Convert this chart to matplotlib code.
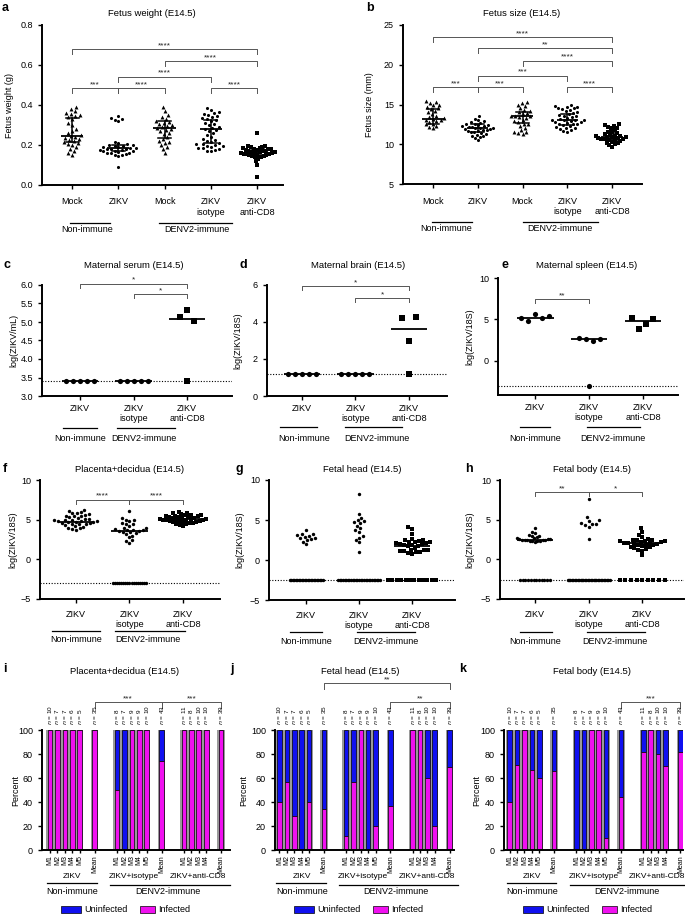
import numpy as np
import matplotlib
matplotlib.use("Agg")
import matplotlib.pyplot as plt
from matplotlib.patches import Rectangle
from matplotlib.transforms import blended_transform_factory

plt.rcParams["font.family"] = ["Liberation Sans", "DejaVu Sans"]
plt.rcParams["font.size"] = 6.5

W, H = 685, 915

# ------------------------------------------------------------------
# data
# ------------------------------------------------------------------
# a. fetus weight (g)
A_CATS = ["Mock", "ZIKV", "Mock", "ZIKV\nisotype", "ZIKV\nanti-CD8"]
A_MOCK_NI = [0.39, 0.38, 0.37, 0.36, 0.355, 0.35, 0.345, 0.34, 0.33, 0.31, 0.30, 0.28, 0.27, 0.26, 0.25,
             0.245, 0.24, 0.235, 0.23, 0.225, 0.22, 0.215, 0.21, 0.205, 0.20, 0.19, 0.18, 0.17, 0.16, 0.15]
A_ZIKV_NI = [0.345, 0.335, 0.33, 0.325, 0.32, 0.215, 0.21, 0.205, 0.20, 0.198, 0.195, 0.193, 0.19, 0.188,
             0.186, 0.184, 0.182, 0.18, 0.178, 0.176, 0.174, 0.172, 0.17, 0.168, 0.165, 0.162, 0.16,
             0.158, 0.155, 0.152, 0.148, 0.143, 0.09]
A_MOCK_D = [0.39, 0.37, 0.35, 0.34, 0.33, 0.32, 0.315, 0.31, 0.305, 0.30, 0.295, 0.29, 0.285, 0.28, 0.275,
            0.27, 0.26, 0.255, 0.24, 0.23, 0.22, 0.215, 0.21, 0.20, 0.19, 0.18, 0.16]
A_ISO = [0.385, 0.375, 0.365, 0.36, 0.355, 0.35, 0.345, 0.34, 0.335, 0.33, 0.325, 0.32, 0.31, 0.305, 0.30,
         0.29, 0.285, 0.28, 0.275, 0.27, 0.26, 0.25, 0.24, 0.23, 0.225, 0.22, 0.215, 0.21, 0.207, 0.204,
         0.20, 0.197, 0.194, 0.19, 0.187, 0.184, 0.18, 0.177, 0.172, 0.168]
A_CD8 = [0.26, 0.195, 0.193, 0.19, 0.188, 0.186, 0.184, 0.182, 0.18, 0.178, 0.176, 0.174, 0.172, 0.17,
         0.168, 0.166, 0.165, 0.163, 0.162, 0.16, 0.158, 0.157, 0.155, 0.153, 0.152, 0.15, 0.148, 0.147,
         0.145, 0.142, 0.14, 0.13, 0.12, 0.10, 0.04]
A_CENTER = [0.245, 0.185, 0.285, 0.28, 0.165]
A_LO = [0.215, 0.17, 0.235, 0.21, 0.15]
A_HI = [0.335, 0.20, 0.32, 0.325, 0.18]

# b. fetus size (mm)
B_MOCK_NI = [15.5, 15.3, 15.2, 15.0, 14.9, 14.7, 14.5, 14.4, 14.2, 14.0, 13.8, 13.6, 13.4, 13.3, 13.2,
             13.1, 13.0, 12.9, 12.8, 12.6, 12.5, 12.3, 12.2, 12.0]
B_ZIKV_NI = [13.5, 13.2, 13.0, 12.9, 12.8, 12.7, 12.6, 12.5, 12.45, 12.4, 12.3, 12.25, 12.2, 12.15, 12.1,
             12.05, 12.0, 11.95, 11.9, 11.85, 11.8, 11.7, 11.65, 11.6, 11.5, 11.4, 11.3, 11.2, 11.1, 11.0,
             10.9, 10.8, 10.5]
B_MOCK_D = [15.3, 15.2, 15.0, 14.8, 14.6, 14.3, 14.2, 14.0, 13.9, 13.8, 13.6, 13.55, 13.5, 13.4, 13.3,
            13.1, 12.9, 12.8, 12.6, 12.5, 12.3, 12.0, 11.8, 11.6, 11.5, 11.4, 11.3]
B_ISO = [14.9, 14.8, 14.7, 14.65, 14.6, 14.5, 14.4, 14.3, 14.2, 14.0, 13.9, 13.8, 13.7, 13.6, 13.5,
         13.4, 13.3, 13.2, 13.1, 13.05, 13.0, 12.9, 12.85, 12.8, 12.7, 12.6, 12.55, 12.5, 12.4, 12.3,
         12.2, 12.1, 12.0, 11.9, 11.8, 11.7, 11.6, 13.0]
B_CD8 = [12.5, 12.4, 12.3, 12.2, 12.1, 12.0, 11.8, 11.6, 11.4, 11.3, 11.2, 11.1, 11.05, 11.0, 10.95,
         10.9, 10.85, 10.8, 10.75, 10.7, 10.65, 10.6, 10.55, 10.5, 10.4, 10.3, 10.2, 10.1, 10.0, 9.9,
         9.7, 11.5]
B_CENTER = [13.2, 12.0, 13.5, 13.0, 10.9]
B_LO = [12.5, 11.6, 12.7, 12.4, 10.5]
B_HI = [14.4, 12.5, 14.1, 13.8, 11.4]

# c-h. viral load
CH_CATS = ["ZIKV", "ZIKV\nisotype", "ZIKV\nanti-CD8"]
C_ZIKV = [3.4, 3.4, 3.4, 3.4, 3.4]
C_ISO = [3.4, 3.4, 3.4, 3.4, 3.4]
C_CD8 = [5.13, 5.33, 5.03, 3.4]
C_CENTER = [3.4, 3.4, 5.08]
C_LOD = 3.4

D_ZIKV = [1.2, 1.2, 1.2, 1.2, 1.2]
D_ISO = [1.2, 1.2, 1.2, 1.2, 1.2]
D_CD8 = [4.2, 2.95, 4.25, 1.2]
D_CENTER = [1.2, 1.2, 3.6]
D_LOD = 1.2

E_ZIKV = [5.2, 4.8, 5.7, 5.15, 5.4]
E_ISO = [2.8, 2.6, 2.45, 2.6, -3.0]
E_CD8 = [5.2, 3.9, 4.4, 5.1]
E_CENTER = [5.2, 2.6, 4.8]
E_LOD = -3.0

F_ZIKV = [6.2, 6.1, 6.0, 5.9, 5.8, 5.7, 5.6, 5.5, 5.4, 5.3, 5.2, 5.1, 5.05, 5.0, 4.95, 4.9, 4.85, 4.8,
          4.75, 4.7, 4.65, 4.6, 4.55, 4.5, 4.45, 4.4, 4.3, 4.2, 4.1, 4.0, 3.9, 3.8, 3.7, 5.45, 4.88]
F_ISO = [6.1, 5.2, 5.0, 4.9, 4.8, 4.6, 4.4, 4.2, 4.0, 3.9, 3.8, 3.75, 3.7, 3.65, 3.6, 3.55, 3.5, 3.4,
         3.3, 3.2, 3.0, 2.8, 2.5, 2.3, 2.1, 4.5] + [-3.0] * 17
F_CD8 = [6.0, 5.9, 5.8, 5.7, 5.6, 5.55, 5.5, 5.45, 5.4, 5.35, 5.3, 5.25, 5.2, 5.15, 5.1, 5.08, 5.05, 5.0,
         4.98, 4.95, 4.9, 4.85, 4.8, 4.75, 4.7, 4.65, 4.6, 4.5, 4.4, 4.3, 4.2, 5.62, 5.32, 5.02, 4.82, 4.62]
F_CENTER = [4.7, 3.6, 5.1]
F_LOD = -3.0

G_ZIKV = [3.7, 3.3, 3.2, 3.1, 3.0, 2.9, 2.8, 2.7, 2.6, 2.5, 2.3, 2.0] + [-2.5] * 23
G_ISO = [8.2, 5.8, 5.3, 5.0, 4.9, 4.7, 4.6, 4.3, 4.0, 3.7, 3.5, 3.0, 2.8, 2.5, 2.2, 1.0] + [-2.5] * 27
G_CD8 = [4.1, 3.9, 3.2, 2.6, 2.5, 2.45, 2.4, 2.3, 2.25, 2.2, 2.15, 2.1, 2.0, 1.95, 1.9, 1.85, 1.8, 1.7,
         1.5, 1.3, 1.25, 1.2, 1.15, 1.1, 1.05, 1.0, 0.9, 0.8] + [-2.5] * 12
G_CENTER = [None, None, 1.8]
G_LOD = -2.5

H_ZIKV = [4.0, 3.5, 3.3, 3.1, 3.0, 2.9, 2.8, 2.7, 2.65, 2.6, 2.55, 2.5, 2.48, 2.45, 2.4, 2.38, 2.35,
          2.3, 2.28, 2.25, 2.2, 2.62] + [-2.6] * 12
H_ISO = [7.6, 5.3, 4.9, 4.8, 4.6, 4.5, 4.4, 4.3, 4.1, 2.6] + [-2.6] * 30
H_CD8 = [4.0, 3.5, 3.1, 2.8, 2.6, 2.5, 2.45, 2.4, 2.3, 2.25, 2.2, 2.15, 2.1, 2.05, 2.0, 1.95, 1.9, 1.85,
         1.8, 1.7, 1.6, 1.5, 1.4, 1.3, 1.2, 1.1, 0.5, 2.35, 1.75] + [-2.6] * 9
H_CENTER = [2.5, None, 2.0]
H_LOD = -2.6

# i-k. percent infected per mouse
BAR_LABELS_ZIKV = ["M1", "M2", "M3", "M4", "M5"]
BAR_LABELS_ISO = ["M1", "M2", "M3", "M4", "M5"]
BAR_LABELS_CD8 = ["M1", "M2", "M3", "M4"]
N_ZIKV = [10, 7, 7, 6, 5]
N_ISO = [8, 7, 9, 9, 10]
N_CD8 = [11, 8, 10, 10]
N_MEANS = [35, 43, 39]

I_ZIKV = [100, 100, 100, 100, 100]
I_ISO = [50, 0, 100, 100, 100]
I_CD8 = [100, 100, 100, 100]
I_MEANS = [100, 74, 100]

J_ZIKV = [40, 57, 28, 0, 40]
J_ISO = [12, 57, 100, 0, 20]
J_CD8 = [100, 100, 60, 20]
J_MEANS = [34, 37, 69]

K_ZIKV = [40, 71, 100, 67, 60]
K_ISO = [0, 0, 100, 100, 10]
K_CD8 = [82, 100, 80, 70]
K_MEANS = [66, 44, 82]

BLUE = "#1010f0"
MAGENTA = "#f010f0"
GRAY = "#9a9a9a"
BRACKET = "#555555"

fig = plt.figure(figsize=(W / 100, H / 100), dpi=100)


def fy(ypx):
    return 1 - ypx / H


def fx(xpx):
    return xpx / W


def add_ax(box):
    l, t, r, b = box
    ax = fig.add_axes([l / W, 1 - b / H, (r - l) / W, (b - t) / H])
    for s in ["top", "right"]:
        ax.spines[s].set_visible(False)
    for s in ["left", "bottom"]:
        ax.spines[s].set_linewidth(1.4)
    ax.tick_params(width=1.0, length=3, labelsize=6.5, direction="out")
    ax.patch.set_alpha(0)
    return ax


def beeswarm(ypx, d):
    # classic swarm: each point as near the centre as it can go without overlap
    order = np.argsort(ypx)
    placed = []
    xs = np.zeros(len(ypx))
    for i in order:
        y = ypx[i]
        iv = []
        for px, py in placed:
            dy = abs(y - py)
            if dy < d:
                w = np.sqrt(d * d - dy * dy)
                iv.append((px - w, px + w))
        cands = sorted([0.0] + [a for a, b in iv] + [b for a, b in iv], key=abs)
        x = 0.0
        for c in cands:
            if all(not (a + 1e-6 < c < b - 1e-6) for a, b in iv):
                x = c
                break
        placed.append((x, y))
        xs[i] = x
    return xs


def group_x(vals, box, xlim, ylim, mode, d_px, lod, lod_w, maxw):
    vals = np.asarray(vals, float)
    xpu = (box[2] - box[0]) / (xlim[1] - xlim[0])
    ypu = (box[3] - box[1]) / (ylim[1] - ylim[0])
    xs = np.zeros(len(vals))
    is_lod = np.isclose(vals, lod) if lod is not None else np.zeros(len(vals), bool)
    for sel, width in ((is_lod, lod_w), (~is_lod, None)):
        idx = np.where(sel)[0]
        n = len(idx)
        if n == 0:
            continue
        if sel is is_lod or mode == "row":
            if n > 1:
                step = d_px if width is None else width / (n - 1)
                xs[idx] = (np.arange(n) - (n - 1) / 2) * step
        else:
            bx = beeswarm(vals[idx] * ypu, d_px)
            span = np.abs(bx).max()
            if maxw is not None and span > maxw / 2:
                bx = bx * (maxw / 2) / span
            xs[idx] = bx
    return xs / xpu


def draw_scatter(ax, box, groups, markers, xlim, ylim, centers, lo=None, hi=None,
                 ms=5, mode="bee", d_px=4, lod=None, lod_w=None, maxw=None, half=0.34, cap=0.14):
    ax.set_xlim(xlim)
    ax.set_ylim(ylim)
    if lod_w is None:
        lod_w = [None] * len(groups)
    if not isinstance(maxw, (list, tuple)):
        maxw = [maxw] * len(groups)
    for gi, (vals, mk) in enumerate(zip(groups, markers)):
        xs = gi + group_x(vals, box, xlim, ylim, mode, d_px, lod, lod_w[gi], maxw[gi])
        size = ms * 1.6 if mk == "^" else ms
        ax.scatter(xs, vals, marker=mk, s=size, c="black", linewidths=0, zorder=3, clip_on=False)
    for gi, c in enumerate(centers):
        if c is None:
            continue
        ax.plot([gi - half, gi + half], [c, c], color="black", lw=1.3, zorder=4, solid_capstyle="butt")
    if lo is not None:
        for gi, (l, h) in enumerate(zip(lo, hi)):
            ax.plot([gi, gi], [l, h], color="black", lw=1.1, zorder=4)
            ax.plot([gi - cap, gi + cap], [l, l], color="black", lw=1.1, zorder=4)
            ax.plot([gi - cap, gi + cap], [h, h], color="black", lw=1.1, zorder=4)


def bracket(ax, x1, x2, y, drop, label, fs=6):
    ax.plot([x1, x1, x2, x2], [y - drop, y, y, y - drop], color=BRACKET, lw=0.7, clip_on=False)
    ax.text((x1 + x2) / 2, y, label, ha="center", va="bottom", fontsize=fs, color="#222222")


def group_labels(ax, items, y_line, y_text, fs=6.5):
    tr = blended_transform_factory(ax.transData, fig.transFigure)
    for x0, x1, xt, label in items:
        ax.plot([x0, x1], [fy(y_line)] * 2, transform=tr, color="black", lw=0.9, clip_on=False)
        ax.text(xt, fy(y_text), label, transform=tr, ha="center", va="center", fontsize=fs)


def cat_ticks(ax, labels, pad):
    ax.set_xticks(range(len(labels)))
    ax.set_xticklabels(labels, linespacing=1.15, va="top")
    ax.tick_params(axis="x", pad=pad)


def heading(letter, lx, ly, title, tx, ty):
    fig.text(fx(lx), fy(ly), letter, fontsize=9, fontweight="bold", ha="left", va="center")
    fig.text(fx(tx), fy(ty), title, fontsize=6.8, ha="center", va="center")


def ylab(text, x, box):
    fig.text(fx(x), fy((box[1] + box[3]) / 2), text, rotation=90, ha="center", va="center", fontsize=6.5)


def dotted(ax, y):
    ax.axhline(y, color="black", lw=0.8, ls=(0, (1, 1.5)), zorder=1)


# ------------------------------------------------------------------
# a
# ------------------------------------------------------------------
A_BOX = (42, 25, 283, 185)
ax = add_ax(A_BOX)
draw_scatter(ax, A_BOX, [A_MOCK_NI, A_ZIKV_NI, A_MOCK_D, A_ISO, A_CD8], ["^", "o", "^", "o", "s"],
             (-0.65, 4.56), (0, 0.8), A_CENTER, A_LO, A_HI, ms=5, d_px=4.4,
             maxw=[24, 37, 35, 37, 35], half=0.24, cap=0.14)
ax.set_yticks([0, 0.2, 0.4, 0.6, 0.8])
ax.set_yticklabels(["0.0", "0.2", "0.4", "0.6", "0.8"])
cat_ticks(ax, A_CATS, 6)
bracket(ax, 0, 4, 0.678, 0.025, "****")
bracket(ax, 2, 4, 0.62, 0.025, "****")
bracket(ax, 1, 3, 0.542, 0.025, "****")
bracket(ax, 0, 1, 0.483, 0.025, "***")
bracket(ax, 1, 2, 0.483, 0.025, "****")
bracket(ax, 3, 4, 0.483, 0.025, "****")
group_labels(ax, [(-0.04, 0.82, 0.33, "Non-immune"), (1.88, 3.46, 2.7, "DENV2-immune")], 223, 230)
heading("a", 2, 8, "Fetus weight (E14.5)", 152, 13)
ylab("Fetus weight (g)", 10, A_BOX)

# ------------------------------------------------------------------
# b
# ------------------------------------------------------------------
B_BOX = (403, 25, 642, 184)
ax = add_ax(B_BOX)
draw_scatter(ax, B_BOX, [B_MOCK_NI, B_ZIKV_NI, B_MOCK_D, B_ISO, B_CD8], ["^", "o", "^", "o", "s"],
             (-0.67, 4.67), (5, 25), B_CENTER, B_LO, B_HI, ms=5, d_px=4.2,
             maxw=[28, 31, 33, 34, 33], half=0.24, cap=0.14)
ax.set_yticks([5, 10, 15, 20, 25])
cat_ticks(ax, A_CATS, 6)
bracket(ax, 0, 4, 23.45, 0.6, "****")
bracket(ax, 1, 4, 22.05, 0.6, "**")
bracket(ax, 2, 4, 20.5, 0.6, "****")
bracket(ax, 1, 3, 18.6, 0.6, "***")
bracket(ax, 0, 1, 17.2, 0.6, "***")
bracket(ax, 1, 2, 17.2, 0.6, "***")
bracket(ax, 3, 4, 17.2, 0.6, "****")
group_labels(ax, [(-0.02, 0.87, 0.3, "Non-immune"), (2.0, 3.68, 2.84, "DENV2-immune")], 222, 229)
heading("b", 366, 8, "Fetus size (E14.5)", 522, 13)
ylab("Fetus size (mm)", 369, B_BOX)

# ------------------------------------------------------------------
# c
# ------------------------------------------------------------------
C_BOX = (42, 285, 232, 396)
ax = add_ax(C_BOX)
draw_scatter(ax, C_BOX, [C_ZIKV, C_ISO, C_CD8], ["o", "o", "s"], (-0.71, 2.84), (3.0, 6.0),
             C_CENTER, ms=14, mode="row", d_px=7, lod=C_LOD)
dotted(ax, C_LOD)
ax.set_yticks([3.0, 3.5, 4.0, 4.5, 5.0, 5.5, 6.0])
ax.set_yticklabels(["3.0", "3.5", "4.0", "4.5", "5.0", "5.5", "6.0"])
cat_ticks(ax, CH_CATS, 3)
bracket(ax, 0, 2, 6.03, 0.1, "*")
bracket(ax, 1, 2, 5.75, 0.1, "*")
group_labels(ax, [(-0.32, 0.32, 0.0, "Non-immune"), (0.69, 1.78, 1.2, "DENV2-immune")], 428, 438)
heading("c", 3, 265, "Maternal serum (E14.5)", 134, 266)
ylab("log(ZIKV/mL)", 14, C_BOX)

# ------------------------------------------------------------------
# d
# ------------------------------------------------------------------
D_BOX = (267, 285, 447, 396)
ax = add_ax(D_BOX)
draw_scatter(ax, D_BOX, [D_ZIKV, D_ISO, D_CD8], ["o", "o", "s"], (-0.65, 2.71), (0, 6),
             D_CENTER, ms=14, mode="row", d_px=7, lod=D_LOD)
dotted(ax, D_LOD)
ax.set_yticks([0, 2, 4, 6])
cat_ticks(ax, CH_CATS, 3)
bracket(ax, 0, 2, 5.95, 0.2, "*")
bracket(ax, 1, 2, 5.28, 0.2, "*")
group_labels(ax, [(-0.41, 0.28, 0.05, "Non-immune"), (0.8, 1.87, 1.4, "DENV2-immune")], 427, 438)
heading("d", 240, 265, "Maternal brain (E14.5)", 358, 266)
ylab("log(ZIKV/18S)", 238, D_BOX)

# ------------------------------------------------------------------
# e
# ------------------------------------------------------------------
E_BOX = (498, 278, 678, 395)
ax = add_ax(E_BOX)
draw_scatter(ax, E_BOX, [E_ZIKV, E_ISO, E_CD8], ["o", "o", "s"], (-0.69, 2.65), (-4.1, 10),
             E_CENTER, ms=14, mode="row", d_px=7, lod=E_LOD)
dotted(ax, E_LOD)
ax.set_yticks([0, 5, 10])
cat_ticks(ax, CH_CATS, 3)
bracket(ax, 0, 1, 7.45, 0.5, "**")
group_labels(ax, [(-0.28, 0.28, 0.0, "Non-immune"), (0.96, 1.94, 1.45, "DENV2-immune")], 427, 438)
heading("e", 501, 265, "Maternal spleen (E14.5)", 587, 266)
ylab("log(ZIKV/18S)", 470, E_BOX)

# ------------------------------------------------------------------
# f
# ------------------------------------------------------------------
F_BOX = (40, 480, 220, 599)
ax = add_ax(F_BOX)
draw_scatter(ax, F_BOX, [F_ZIKV, F_ISO, F_CD8], ["o", "o", "s"], (-0.67, 2.69), (-5, 10),
             F_CENTER, ms=6, d_px=4.0, lod=F_LOD, lod_w=[None, 33, None], maxw=[45, 36, 47])
dotted(ax, F_LOD)
ax.set_yticks([-5, 0, 5, 10])
cat_ticks(ax, CH_CATS, 5)
bracket(ax, 0, 1, 7.5, 0.5, "****")
bracket(ax, 1, 2, 7.5, 0.5, "****")
group_labels(ax, [(-0.45, 0.45, 0.0, "Non-immune"), (0.73, 2.04, 1.35, "DENV2-immune")], 631, 639)
heading("f", 3, 469, "Placenta+decidua (E14.5)", 130, 469)
ylab("log(ZIKV/18S)", 13, F_BOX)

# ------------------------------------------------------------------
# g
# ------------------------------------------------------------------
G_BOX = (269, 480, 455, 600)
ax = add_ax(G_BOX)
draw_scatter(ax, G_BOX, [G_ZIKV, G_ISO, G_CD8], ["o", "o", "s"], (-0.7, 2.81), (-5, 10),
             G_CENTER, ms=6, d_px=4.2, lod=G_LOD, lod_w=[33, 42, 48], maxw=[30, 30, 48])
dotted(ax, G_LOD)
ax.set_yticks([-5, 0, 5, 10])
cat_ticks(ax, CH_CATS, 5)
group_labels(ax, [(-0.3, 0.3, 0.0, "Non-immune"), (0.96, 2.05, 1.5, "DENV2-immune")], 632, 642)
heading("g", 236, 469, "Fetal head (E14.5)", 362, 469)
ylab("log(ZIKV/18S)", 240, G_BOX)

# ------------------------------------------------------------------
# h
# ------------------------------------------------------------------
H_BOX = (500, 480, 684, 599)
ax = add_ax(H_BOX)
draw_scatter(ax, H_BOX, [H_ZIKV, H_ISO, H_CD8], ["o", "o", "s"], (-0.65, 2.78), (-5, 10),
             H_CENTER, ms=6, d_px=4.2, lod=H_LOD, lod_w=[30, 42, 45], maxw=[36, 25, 45])
dotted(ax, H_LOD)
ax.set_yticks([-5, 0, 5, 10])
cat_ticks(ax, CH_CATS, 5)
bracket(ax, 0, 1, 8.5, 0.5, "**")
bracket(ax, 1, 2, 8.5, 0.5, "*")
group_labels(ax, [(-0.28, 0.32, 0.0, "Non-immune"), (0.98, 2.05, 1.5, "DENV2-immune")], 632, 642)
heading("h", 465, 469, "Fetal body (E14.5)", 592, 469)
ylab("log(ZIKV/18S)", 470, H_BOX)


# ------------------------------------------------------------------
# i-k stacked bars
# ------------------------------------------------------------------
POS_ZIKV = [0, 1, 2, 3, 4]
POS_ISO = [9, 10, 11, 12, 13]
POS_CD8 = [18, 19, 20, 21]
POS_MEANS = [6, 15, 23]


def bar_panel(box, xlim, zikv, iso, cd8, means, letter, title, title_x, ylab_x, brackets):
    ax = add_ax(box)
    pos = POS_ZIKV + POS_ISO + POS_CD8 + POS_MEANS
    inf = zikv + iso + cd8 + means
    ns = N_ZIKV + N_ISO + N_CD8 + N_MEANS
    labels = BAR_LABELS_ZIKV + BAR_LABELS_ISO + BAR_LABELS_CD8 + ["Mean"] * 3
    inf = np.array(inf, float)
    ax.bar(pos, 100, width=1.0, color=GRAY, linewidth=0, zorder=1)
    ax.bar(pos, 100 - inf, bottom=inf, width=0.62, color=BLUE, edgecolor="black", linewidth=0.5, zorder=2)
    ax.bar(pos, inf, width=0.62, color=MAGENTA, edgecolor="black", linewidth=0.5, zorder=2)
    for p, n in zip(pos, ns):
        ax.text(p, 104, f"$n$ = {n}", rotation=90, ha="center", va="bottom", fontsize=4.6)
    ax.set_xlim(xlim)
    ax.set_ylim(0, 100)
    ax.set_yticks([0, 20, 40, 60, 80, 100])
    ax.set_xticks(pos)
    ax.set_xticklabels(labels, rotation=90, fontsize=5)
    ax.tick_params(axis="x", length=2, pad=1.5)
    for x1, x2, y, lab in brackets:
        bracket(ax, x1, x2, y, 5, lab)
    group_labels(ax, [(-0.4, 6.3, 3.0, "ZIKV")], 883, 877, fs=6)
    tr = blended_transform_factory(ax.transData, fig.transFigure)
    ax.text(11.3, fy(877), "ZIKV+isotype", transform=tr, ha="center", va="center", fontsize=6)
    ax.text(19.9, fy(877), "ZIKV+anti-CD8", transform=tr, ha="center", va="center", fontsize=6)
    ax.plot([8.1, 24.2], [fy(885)] * 2, transform=tr, color="black", lw=0.9, clip_on=False)
    ax.text(3.0, fy(892), "Non-immune", transform=tr, ha="center", va="center", fontsize=6.5)
    ax.text(15.8, fy(892), "DENV2-immune", transform=tr, ha="center", va="center", fontsize=6.5)
    l = box[0]
    fig.add_artist(Rectangle((fx(l + 19), fy(913)), fx(20), 7 / H, transform=fig.transFigure,
                             facecolor=BLUE, edgecolor="black", linewidth=0.5))
    fig.text(fx(l + 42), fy(910), "Uninfected", fontsize=6.5, va="center", ha="left")
    fig.add_artist(Rectangle((fx(l + 98), fy(913)), fx(15), 7 / H, transform=fig.transFigure,
                             facecolor=MAGENTA, edgecolor="black", linewidth=0.5))
    fig.text(fx(l + 116), fy(910), "Infected", fontsize=6.5, va="center", ha="left")
    heading(letter, box[0] - 39 if letter == "i" else box[0] - 45, 669, title, title_x, 671)
    ylab("Percent", ylab_x, box)
    return ax


I_BOX = (42, 730, 230, 850)
J_BOX = (275, 730, 454, 850)
K_BOX = (504, 730, 683, 850)
bar_panel(I_BOX, (-1.08, 24.2), I_ZIKV, I_ISO, I_CD8, I_MEANS, "i", "Placenta+decidua (E14.5)", 125, 16,
          [(6, 15, 123.3, "***"), (15, 23, 123.3, "***")])
bar_panel(J_BOX, (-0.6, 23.6), J_ZIKV, J_ISO, J_CD8, J_MEANS, "j", "Fetal head (E14.5)", 360, 244,
          [(6, 23, 139, "**"), (15, 23, 123.3, "**")])
bar_panel(K_BOX, (-0.75, 23.35), K_ZIKV, K_ISO, K_CD8, K_MEANS, "k", "Fetal body (E14.5)", 592, 477,
          [(15, 23, 123.3, "***")])

fig.savefig("out.png", dpi=100)
